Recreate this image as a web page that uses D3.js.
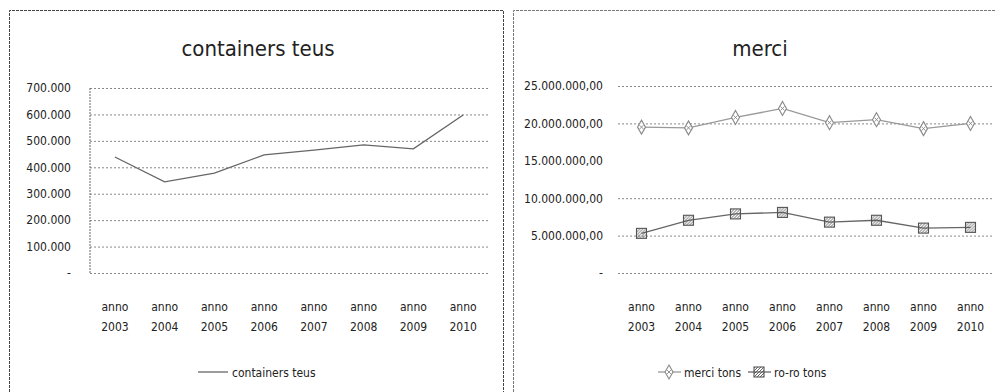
<!DOCTYPE html>
<html>
<head>
<meta charset="utf-8">
<script src="https://cdn.jsdelivr.net/npm/d3@7"></script>
<style>
  body { margin: 0; background: #fff; }
  text { font-family: "DejaVu Sans Condensed", "DejaVu Sans", sans-serif; font-stretch: condensed; fill: #222; }
  .grid line { stroke: #888; stroke-dasharray: 2,2; }
  .grid path { display: none; }
  .ylab path, .ylab line { display: none; }
</style>
</head>
<body>
<div id="chart"></div>
<script>
// Data
const years = ["2003", "2004", "2005", "2006", "2007", "2008", "2009", "2010"];
const containersTeus = [439000, 345000, 378000, 447000, 465000, 485000, 470000, 598000];
const merciTons = [19500000, 19400000, 20800000, 22000000, 20100000, 20500000, 19300000, 20000000];
const roroTons = [5300000, 7050000, 7900000, 8100000, 6800000, 7050000, 6000000, 6100000];
const ticksLeft = [0, 100000, 200000, 300000, 400000, 500000, 600000, 700000];
const ticksRight = [0, 5000000, 10000000, 15000000, 20000000, 25000000];

const it = d3.formatLocale({ decimal: ",", thousands: ".", grouping: [3], currency: ["€", ""] });
const fmtInt = it.format(",.0f");
const fmtDec = it.format(",.2f");

const svg = d3.select("#chart").append("svg")
    .attr("width", 995)
    .attr("height", 392);

// Panel frames
svg.append("path")
    .attr("d", "M9.5,392 V10.5 H503.5 V392")
    .attr("fill", "none").attr("stroke", "#444").attr("stroke-dasharray", "3,1");
svg.append("path")
    .attr("d", "M513.5,392 V10.5 H995")
    .attr("fill", "none").attr("stroke", "#777").attr("stroke-dasharray", "3,1");

// ---------- Left chart: containers teus ----------
const x1 = d3.scaleBand().domain(years).range([90, 488]);
const y1 = d3.scaleLinear().domain([0, 700000]).range([273, 88]);

svg.append("text")
    .attr("x", 258).attr("y", 56)
    .attr("text-anchor", "middle")
    .style("font-size", "22px")
    .text("containers teus");

svg.append("g")
    .attr("class", "grid")
    .attr("transform", "translate(90,0)")
    .call(d3.axisLeft(y1).tickValues(ticksLeft).tickSize(-398).tickFormat(""));

svg.append("line")
    .attr("x1", 90).attr("x2", 90).attr("y1", 88).attr("y2", 273)
    .attr("stroke", "#666").attr("stroke-dasharray", "2,1");

svg.append("g")
    .attr("class", "ylab")
    .attr("transform", "translate(74,0)")
    .call(d3.axisLeft(y1).tickValues(ticksLeft).tickSize(0)
        .tickFormat(d => d === 0 ? "-" : fmtInt(d)))
    .selectAll("text").style("font-size", "12px");

const xl1 = svg.append("g").selectAll("text").data(years).join("text")
    .attr("text-anchor", "middle")
    .style("font-size", "12px");
xl1.append("tspan").attr("x", d => x1(d) + x1.bandwidth() / 2).attr("y", 311).text("anno");
xl1.append("tspan").attr("x", d => x1(d) + x1.bandwidth() / 2).attr("y", 331).text(d => d);

svg.append("path")
    .datum(containersTeus)
    .attr("fill", "none")
    .attr("stroke", "#666")
    .attr("stroke-width", 1.3)
    .attr("d", d3.line()
        .x((d, i) => x1(years[i]) + x1.bandwidth() / 2)
        .y(d => y1(d)));

// legend
svg.append("line")
    .attr("x1", 198).attr("x2", 228).attr("y1", 372).attr("y2", 372)
    .attr("stroke", "#666").attr("stroke-width", 1.3);
svg.append("text")
    .attr("x", 232).attr("y", 377)
    .style("font-size", "12px")
    .text("containers teus");

// ---------- Right chart: merci ----------
const x2 = d3.scaleBand().domain(years).range([618, 994]);
const y2 = d3.scaleLinear().domain([0, 25000000]).range([273, 86]);

svg.append("text")
    .attr("x", 760).attr("y", 56)
    .attr("text-anchor", "middle")
    .style("font-size", "22px")
    .text("merci");

svg.append("g")
    .attr("class", "grid")
    .attr("transform", "translate(618,0)")
    .call(d3.axisLeft(y2).tickValues(ticksRight.filter(d => d !== 15000000)).tickSize(-376).tickFormat(""));

svg.append("g")
    .attr("class", "ylab")
    .attr("transform", "translate(606,0)")
    .call(d3.axisLeft(y2).tickValues(ticksRight).tickSize(0)
        .tickFormat(d => d === 0 ? "-" : fmtDec(d)))
    .selectAll("text").style("font-size", "12px");

const xl2 = svg.append("g").selectAll("text").data(years).join("text")
    .attr("text-anchor", "middle")
    .style("font-size", "12px");
xl2.append("tspan").attr("x", d => x2(d) + x2.bandwidth() / 2).attr("y", 311).text("anno");
xl2.append("tspan").attr("x", d => x2(d) + x2.bandwidth() / 2).attr("y", 331).text(d => d);

// hatch pattern for ro-ro squares
const defs = svg.append("defs");
defs.append("pattern")
    .attr("id", "hatch")
    .attr("patternUnits", "userSpaceOnUse")
    .attr("width", 3).attr("height", 3)
    .append("path")
    .attr("d", "M0,3 L3,0")
    .attr("stroke", "#555").attr("stroke-width", 0.9);

const cx2 = (d, i) => x2(years[i]) + x2.bandwidth() / 2;

function diamond(g) {
    g.append("path")
        .attr("d", "M0,-7 L4,0 L0,7 L-4,0 Z")
        .attr("fill", "#fff").attr("stroke", "#888").attr("stroke-width", 1.1);
    g.append("path")
        .attr("d", "M-2,-2 L2,2 M-2,2 L2,-2")
        .attr("stroke", "#888").attr("stroke-width", 0.9);
}
function square(g) {
    g.append("rect")
        .attr("x", -5).attr("y", -5).attr("width", 10).attr("height", 10)
        .attr("fill", "url(#hatch)").attr("stroke", "#555").attr("stroke-width", 1.1);
}

svg.append("path")
    .datum(merciTons)
    .attr("fill", "none").attr("stroke", "#999").attr("stroke-width", 1.3)
    .attr("d", d3.line().x(cx2).y(d => y2(d)));
svg.append("g").selectAll("g").data(merciTons).join("g")
    .attr("transform", (d, i) => `translate(${cx2(d, i)},${y2(d)})`)
    .each(function () { diamond(d3.select(this)); });

svg.append("path")
    .datum(roroTons)
    .attr("fill", "none").attr("stroke", "#666").attr("stroke-width", 1.3)
    .attr("d", d3.line().x(cx2).y(d => y2(d)));
svg.append("g").selectAll("g").data(roroTons).join("g")
    .attr("transform", (d, i) => `translate(${cx2(d, i)},${y2(d)})`)
    .each(function () { square(d3.select(this)); });

// legend
svg.append("line").attr("x1", 658).attr("x2", 681).attr("y1", 372).attr("y2", 372)
    .attr("stroke", "#999").attr("stroke-width", 1.3);
diamond(svg.append("g").attr("transform", "translate(669,372)"));
svg.append("text").attr("x", 684).attr("y", 377).style("font-size", "12px").text("merci tons");

svg.append("line").attr("x1", 748).attr("x2", 771).attr("y1", 372).attr("y2", 372)
    .attr("stroke", "#666").attr("stroke-width", 1.3);
square(svg.append("g").attr("transform", "translate(759,372)"));
svg.append("text").attr("x", 774).attr("y", 377).style("font-size", "12px").text("ro-ro tons");
</script>
</body>
</html>
